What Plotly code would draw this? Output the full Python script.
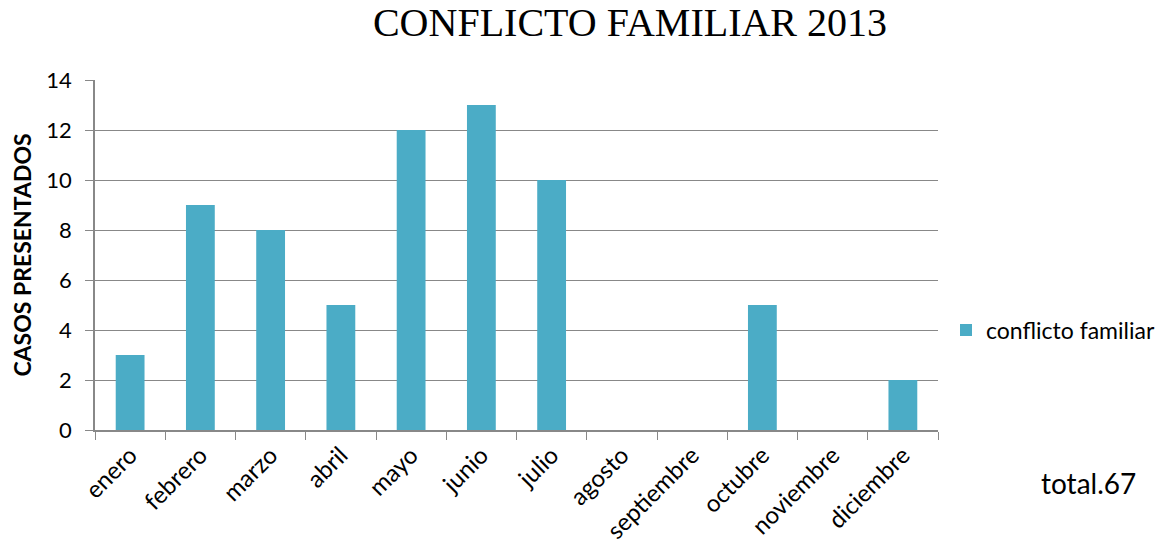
import plotly.graph_objects as go

months = ["enero", "febrero", "marzo", "abril", "mayo", "junio", "julio",
          "agosto", "septiembre", "octubre", "noviembre", "diciembre"]
casos = [3, 9, 8, 5, 12, 13, 10, 0, 0, 5, 0, 2]
series_name = "conflicto familiar"
title_text = "CONFLICTO FAMILIAR 2013"
y_title = "CASOS PRESENTADOS"
total_text = "total.67"

# page body has an 8px offset; size the figure so the visible picture is 1176x550
OFF = 8
W, H = 1176 - OFF, 550 - OFF
L, T, R, B = 95 - OFF, 80 - OFF, 1176 - 938, 550 - 430
PW, PH = 938 - 95, 430 - 80

fig = go.Figure()
fig.add_trace(go.Bar(x=months, y=casos, name=series_name,
                     marker=dict(color="#4BACC6", line=dict(width=0))))

fig.update_layout(
    width=W, height=H,
    margin=dict(l=L, r=R, t=T, b=B, autoexpand=False),
    paper_bgcolor="white", plot_bgcolor="white",
    bargap=0.59,
    title=dict(text=title_text, x=(630 - OFF) / W, xanchor="center", xref="container",
               y=1, yanchor="top", yref="container", pad=dict(t=0, b=0),
               font=dict(family="Liberation Serif", size=40, color="black")),
    showlegend=True,
    legend=dict(x=1 + (946 - 938) / PW, y=(430 - 330) / PH, xanchor="left", yanchor="middle",
                font=dict(family="Lato", size=23, color="black"),
                itemwidth=30, borderwidth=0, bgcolor="rgba(0,0,0,0)"),
    font=dict(family="Lato", color="black"),
)
fig.update_xaxes(
    automargin=False,
    showline=True, linecolor="#888888", linewidth=1.5,
    ticks="outside", tickson="boundaries", ticklen=8, tickcolor="#888888",
    tickangle=-45, tickfont=dict(family="Lato", size=24, color="black"),
    showgrid=False,
)
fig.update_yaxes(
    automargin=False,
    range=[0, 14], dtick=2,
    showline=True, linecolor="#888888", linewidth=1.5,
    ticks="outside", ticklen=8, tickcolor="#888888",
    ticklabelstandoff=9,
    showgrid=True, gridcolor="#888888", gridwidth=1,
    tickfont=dict(family="Lato", size=22, color="black"),
    title=dict(text="<b>" + y_title + "</b>", font=dict(family="Lato", size=23, color="black"), standoff=8),
    zeroline=False,
)
fig.add_annotation(text=total_text, xref="paper", yref="paper",
                   x=(1088 - 95) / PW, y=-(483 - 430) / PH, xanchor="center", yanchor="middle",
                   showarrow=False, font=dict(family="Lato", size=28, color="black"))

fig.write_html("out.html")
